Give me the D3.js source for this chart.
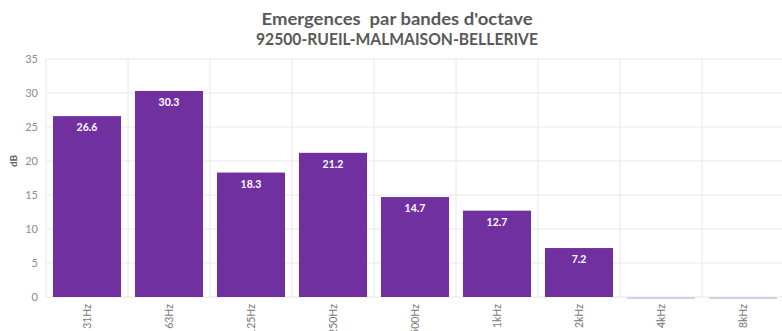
<!DOCTYPE html>
<html><head><meta charset="utf-8">
<script src="https://cdn.jsdelivr.net/npm/d3@7"></script>
<style>body{margin:0;background:#fff;overflow:hidden}svg{display:block}</style>
</head><body><svg id="c" width="782" height="331"></svg>
<script>
const categories = ["31Hz","63Hz","125Hz","250Hz","500Hz","1kHz","2kHz","4kHz","8kHz"];
const values = [26.6,30.3,18.3,21.2,14.7,12.7,7.2,0,0];
const yTicks = [0,5,10,15,20,25,30,35];
const titleLines = ["Emergences  par bandes d'octave","92500-RUEIL-MALMAISON-BELLERIVE"];
const yLabel = "dB";

const svg = d3.select("#c");
const font = "Lato, 'Open Sans', sans-serif";
const x = d3.scaleBand().domain(categories).range([46,784]).paddingInner(0.17).paddingOuter(0.085);
const y = d3.scaleLinear().domain([0,35]).range([297,59]);

// horizontal grid
svg.append("g").selectAll("line").data(yTicks).join("line")
  .attr("x1",46).attr("x2",784).attr("y1",d=>y(d)).attr("y2",d=>y(d))
  .attr("stroke","#e8e8e8").attr("stroke-width",1);
// vertical grid at band boundaries
const bounds = d3.range(categories.length+1).map(i=>46+i*(738/categories.length));
svg.append("g").selectAll("line").data(bounds).join("line")
  .attr("x1",d=>d).attr("x2",d=>d).attr("y1",y(35)).attr("y2",y(0))
  .attr("stroke","#e8e8e8").attr("stroke-width",1);

// y axis labels
const yAxis = d3.axisLeft(y).tickValues(yTicks).tickSize(0).tickPadding(8);
const ga = svg.append("g").attr("transform","translate(46,0)").call(yAxis);
ga.select(".domain").remove();
ga.selectAll("text").attr("font-family",font).attr("font-size",11).attr("fill","#8c8c8c");

svg.append("text").attr("transform","translate(17,"+y(20)+") rotate(-90)")
  .attr("text-anchor","middle").attr("font-family",font).attr("font-size",10).attr("font-weight","bold")
  .attr("fill","#666").text(yLabel);

const rows = categories.map((c,i)=>({c,v:values[i]}));
// bars
svg.append("g").selectAll("rect").data(rows.filter(d=>d.v>0)).join("rect")
  .attr("x",d=>x(d.c)).attr("width",x.bandwidth())
  .attr("y",d=>y(d.v)).attr("height",d=>y(0)-y(d.v))
  .attr("fill","#7030a0");
// zero values as thin lines
svg.append("g").selectAll("line").data(rows.filter(d=>d.v===0)).join("line")
  .attr("x1",d=>x(d.c)).attr("x2",d=>x(d.c)+x.bandwidth())
  .attr("y1",y(0)+1).attr("y2",y(0)+1).attr("stroke","#b9a0e0").attr("stroke-width",1.2);

// value labels
svg.append("g").selectAll("text").data(rows.filter(d=>d.v>0)).join("text")
  .attr("x",d=>x(d.c)+x.bandwidth()/2).attr("y",d=>y(d.v)+15)
  .attr("text-anchor","middle").attr("font-family",font).attr("font-size",10.5).attr("font-weight","bold")
  .attr("fill","#fff").text(d=>d.v.toFixed(1));

// x labels
svg.append("g").selectAll("text").data(categories).join("text")
  .attr("transform",d=>"translate("+(x(d)+x.bandwidth()/2)+",304) rotate(-90)")
  .attr("text-anchor","end").attr("dy","0.35em")
  .attr("font-family",font).attr("font-size",10.5).attr("fill","#777").text(d=>d);

// title
const tl = [271,282];
svg.append("g").selectAll("text").data(titleLines).join("text")
  .attr("x",397).attr("y",(d,i)=>25+i*20).attr("text-anchor","middle")
  .attr("xml:space","preserve").style("white-space","pre")
  .attr("textLength",(d,i)=>tl[i]).attr("lengthAdjust","spacingAndGlyphs")
  .attr("font-family",font).attr("font-size",17).attr("font-weight","bold").attr("fill","#595959").text(d=>d);
</script></body></html>
